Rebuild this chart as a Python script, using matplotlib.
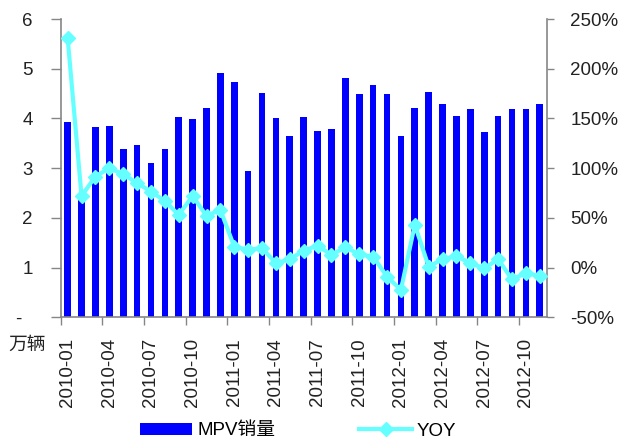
import matplotlib
matplotlib.use("Agg")
import matplotlib.pyplot as plt
import numpy as np

plt.rcParams['font.family'] = ['Liberation Sans', 'Noto Sans CJK SC', 'DejaVu Sans']

months = [f"{y}-{m:02d}" for y in (2010, 2011, 2012) for m in range(1, 13)][:35]
sales = [3.93, 2.40, 3.83, 3.85, 3.39, 3.46, 3.10, 3.39, 4.03, 3.99,
         4.21, 4.91, 4.73, 2.95, 4.52, 4.01, 3.65, 4.03, 3.75, 3.78,
         4.81, 4.50, 4.68, 4.50, 3.65, 4.21, 4.53, 4.30, 4.04, 4.19,
         3.72, 4.04, 4.19, 4.19, 4.30]
yoy = [230.9, 72.0, 91.6, 100.0, 94.0, 85.0, 76.5, 67.0, 53.0, 72.0,
       52.0, 58.0, 21.0, 18.0, 19.5, 4.4, 8.4, 17.0, 22.0, 12.8,
       20.5, 13.4, 11.0, -9.0, -22.5, 43.0, 1.0, 8.4, 11.7, 4.4,
       -0.7, 8.4, -11.7, -5.7, -8.4]
left_ticks = [0, 1, 2, 3, 4, 5, 6]
left_labels = ["-  ", "1", "2", "3", "4", "5", "6"]
right_ticks = [-50, 0, 50, 100, 150, 200, 250]

W, H = 621, 441
fig = plt.figure(figsize=(W / 100, H / 100), dpi=100)
ax = fig.add_axes([60.7 / W, 1 - 317.3 / H, (546.7 - 60.7) / W, (317.3 - 19) / H])
ax2 = ax.twinx()

x = np.arange(len(months))
bars = ax.bar(x, sales, width=0.48, color='#0000FF', label='MPV销量', zorder=2)
line, = ax2.plot(x, yoy, color='#66FFFF', lw=3.0, marker='D', markersize=7.5,
                 markeredgecolor='#66FFFF', label='YOY', zorder=3)

ax.set_xlim(-0.5, len(months) - 0.5)
ax.set_ylim(0, 6)
ax2.set_ylim(-50, 250)

fs = 13.5
grey = '#868686'
ax.set_yticks(left_ticks)
ax.set_yticklabels(left_labels, fontsize=fs, color='#222222')
ax2.set_yticks(right_ticks)
ax2.set_yticklabels([f"{v}%" for v in right_ticks], fontsize=fs, color='#222222')

ax.set_xticks(np.arange(-0.5, len(months) - 0.5, 3))
ax.set_xticklabels([])
ax.set_xticks(x[::3], minor=True)
ax.set_xticklabels([months[i] for i in x[::3]], minor=True, rotation=90,
                   fontsize=fs, color='#222222')
ax.tick_params(axis='x', which='minor', length=0, pad=15)
ax.tick_params(axis='x', which='major', length=6, color=grey, width=1)
ax.tick_params(axis='y', length=7, color=grey, width=1, pad=13)
ax2.tick_params(axis='y', length=5, color=grey, width=1, pad=12)

for a in (ax, ax2):
    a.spines['top'].set_visible(False)
    for s in ('left', 'right', 'bottom'):
        a.spines[s].set_color(grey)
        a.spines[s].set_linewidth(1.2)
ax.spines['right'].set_visible(False)
ax2.spines['left'].set_visible(False)
ax2.spines['bottom'].set_visible(False)

fig.text(8 / W, 1 - 345 / H, '万辆', fontsize=fs, va='center', ha='left', color='#222222')

fig.legend(handles=[bars, line], labels=['MPV销量', 'YOY'], loc='center',
           bbox_to_anchor=(298 / W, 1 - 431 / H), ncol=2, frameon=False,
           fontsize=fs, handlelength=2.8, handleheight=0.63, handletextpad=0.25,
           columnspacing=4.5, borderaxespad=0, borderpad=0)

fig.savefig('out.png', dpi=100)
